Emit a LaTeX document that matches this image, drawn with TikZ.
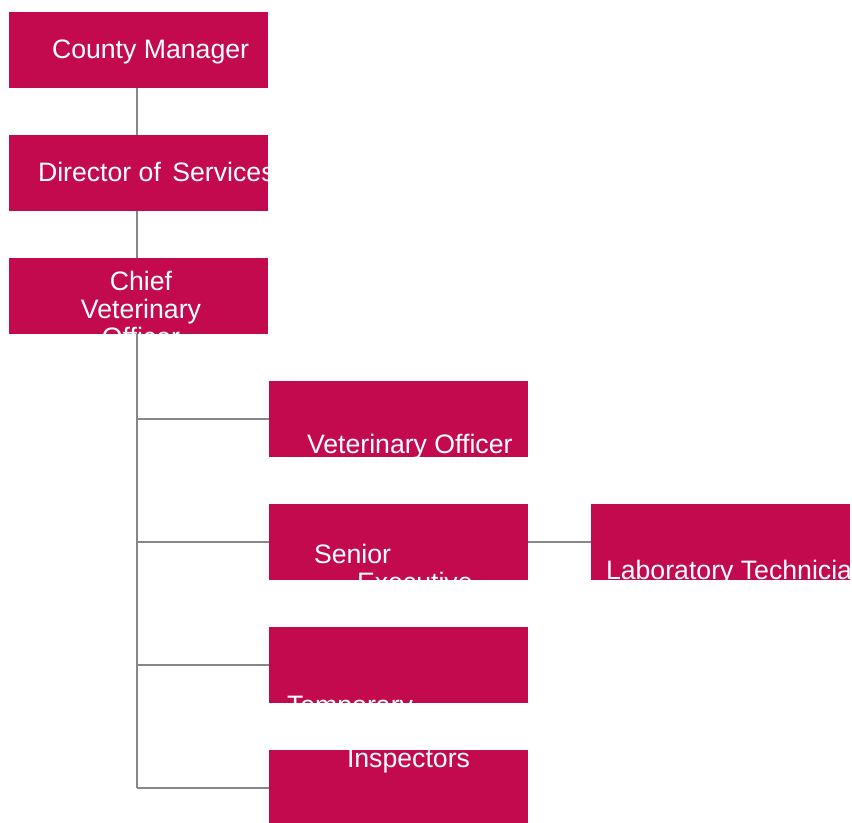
\documentclass[tikz,border=0pt]{standalone}
\usepackage{fontspec}
\setmainfont{Liberation Sans}
\usetikzlibrary{calc}
\definecolor{crimson}{HTML}{C40A4F}
\definecolor{linkgray}{HTML}{878787}
\newcommand{\orgfont}{\fontsize{20pt}{21pt}\selectfont}
\tikzset{
  orgbox/.style={fill=crimson, minimum width=194.25pt, minimum height=57pt,
    inner sep=0pt, outer sep=0pt},
  plaintext/.style={fill=none, draw=none, minimum width=0pt, minimum height=0pt,
    inner sep=0pt, text=white, font=\orgfont},
  boxtext/.style={plaintext, anchor=base west},
  boxtextc/.style={plaintext, anchor=base},
  link/.style={draw=linkgray, line width=1.5pt},
}
% place a line of text at (dx,dy) px from the box's top-left corner, clipped to the box
\newcommand{\intext}[4][boxtext]{\node[#1] at ($(path picture bounding box.north west)+(#2,#3)$) {#4};}
\begin{document}
\begin{tikzpicture}[x=0.75pt, y=-0.75pt]
  \useasboundingbox (0,0) rectangle (852,822);
  \clip (0,0) rectangle (852,822);
  \fill[white] (0,0) rectangle (852,822);

  % boxes
  \node[orgbox, path picture={\intext{43}{46}{County Manager}}] (cm) at (138.5,50) {};
  \node[orgbox, path picture={\intext{29}{46}{Director of\hspace{3pt} Services}}] (ds) at (138.5,173) {};
  \node[orgbox, path picture={%
      \intext[boxtextc]{132}{32}{Chief}
      \intext[boxtextc]{132}{60}{Veterinary}
      \intext[boxtextc]{132}{88}{Officer}}] (cvo) at (138.5,296) {};
  \node[orgbox, path picture={\intext{38}{72}{Veterinary Officer}}] (vo) at (398.5,419) {};
  \node[orgbox, path picture={%
      \intext{45}{59}{Senior}
      \intext{88}{87}{Executive}}] (se) at (398.5,542) {};
  \node[orgbox, path picture={\intext{15}{75}{Laboratory Technician}}] (lt) at (720.5,542) {};
  \node[orgbox, path picture={\intext{18}{87}{Temporary}}] (tv) at (398.5,665) {};
  \node[orgbox, path picture={\intext{78}{17}{Inspectors}}] (ti) at (398.5,788) {};

  % connectors: a spine under the chief officer with branches to each report
  \coordinate (spine) at (137,0);
  \draw[link] (cm.south -| spine) -- (ds.north -| spine);
  \draw[link] (ds.south -| spine) -- (cvo.north -| spine);
  \draw[link] (cvo.south -| spine) -- (ti.west -| spine);
  \draw[link] (vo.west -| spine) -- (vo.west);
  \draw[link] (se.west -| spine) -- (se.west);
  \draw[link] (tv.west -| spine) -- (tv.west);
  \draw[link] (ti.west -| spine) -- (ti.west);
  \draw[link] (se.east) -- (lt.west);
\end{tikzpicture}
\end{document}
